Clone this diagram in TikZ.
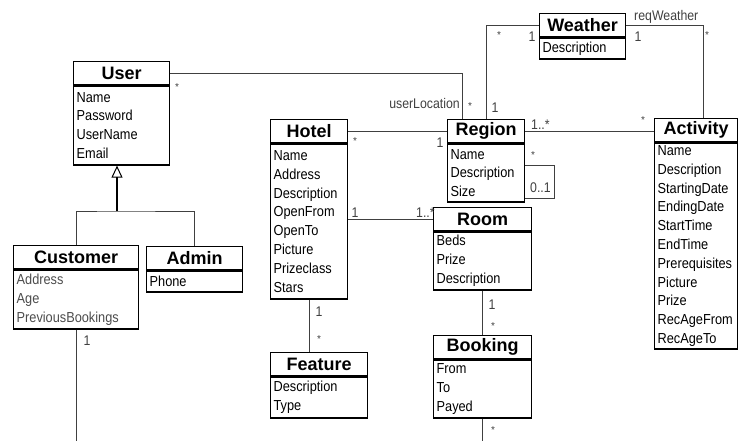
\documentclass[tikz,border=0pt]{standalone}
\usepackage{fontspec}
\setmainfont{Liberation Sans}
\newfontfamily\narrowfont[FakeStretch = 0.88]{Liberation Sans}
\usepackage{tikz}
\usetikzlibrary{arrows.meta}

\tikzset{
  classhead/.style = {rectangle,
      draw = black,
      line width = 1.3pt,
      anchor = north west,
      inner sep = 0pt,
      minimum width = #1,
      minimum height = 23pt,
      font = \fontsize{18}{20}\selectfont\bfseries},
  classbody/.style 2 args = {rectangle,
      draw = black,
      line width = 1.3pt,
      anchor = north,
      inner xsep = 3pt,
      inner ysep = 1pt,
      text width = #1,
      minimum height = #2,
      align = left,
      font = \narrowfont\fontsize{14.5}{18.8}\selectfont},
  assoc/.style = {draw = black!75, line width = 1pt},
  genline/.style = {draw = black, line width = 1.8pt,
      -{Triangle[open, length = 12pt, width = 11pt, line width = 1pt]}},
  mult/.style = {inner sep = 0pt, text = black!75,
      font = \narrowfont\fontsize{14}{15}\selectfont},
  star/.style = {inner sep = 0pt, anchor = base, text = black!75,
      font = \fontsize{10}{12}\selectfont},
}

\begin{document}
\begin{tikzpicture}[x = 1pt, y = -1pt]
\useasboundingbox (0,0) rectangle (739,441);

% user
\node[classhead = 96pt] (user) at (73,61) {User};
\node[classbody = {90pt}{79pt}] (user-attr) at (user.south)
    {Name\\Password\\UserName\\Email};

% customer
\node[classhead = 125pt] (customer) at (13,245) {Customer};
\node[classbody = {119pt}{59pt},
    text = black!70] (customer-attr) at (customer.south)
    {Address\\Age\\PreviousBookings};

% admin
\node[classhead = 96pt] (admin) at (146,246) {Admin};
\node[classbody = {90pt}{21pt}] (admin-attr) at (admin.south) {Phone};

% hotel
\node[classhead = 77pt] (hotel) at (270,119) {Hotel};
\node[classbody = {71pt}{155pt}] (hotel-attr) at (hotel.south)
    {Name\\Address\\Description\\OpenFrom\\OpenTo\\Picture\\Prizeclass\\Stars};

% region
\node[classhead = 77pt] (region) at (447,119) {Region};
\node[classbody = {71pt}{58pt}] (region-attr) at (region.south)
    {Name\\Description\\Size};

% room
\node[classhead = 98pt] (room) at (433,207) {Room};
\node[classbody = {92pt}{58pt}] (room-attr) at (room.south)
    {Beds\\Prize\\Description};

% booking
\node[classhead = 98pt] (booking) at (433,335) {Booking};
\node[classbody = {92pt}{58pt}] (booking-attr) at (booking.south)
    {From\\To\\Payed};

% feature
\node[classhead = 97pt] (feature) at (270,352) {Feature};
\node[classbody = {91pt}{41pt}] (feature-attr) at (feature.south)
    {Description\\Type};

% weather
\node[classhead = 86pt] (weather) at (539,13) {Weather};
\node[classbody = {80pt}{21pt}] (weather-attr) at (weather.south)
    {Description};

% activity
\node[classhead = 83pt] (activity) at (654,118) {Activity};
\node[classbody = {77pt}{206pt}] (activity-attr) at (activity.south)
    {Name\\Description\\StartingDate\\EndingDate\\StartTime\\EndTime\\Prerequisites\\Picture\\Prize\\RecAgeFrom\\RecAgeTo};

% generalization
\coordinate (genJoin) at (117,211);
\coordinate (bottomEdge) at (0,441);
\draw[genline] (genJoin) -- (genJoin |- user-attr.south);
\draw[assoc] (customer.north) |- (genJoin) -| (admin.north);

% associations
\draw[assoc] (user.east) -| ([shift={(15,0)}]region.north west);
\draw[assoc] (region.north) |- (weather.west);
\draw[assoc] (weather.east) -| ([shift={(7,0)}]activity.north);
\draw[assoc] (region.east) -- (region.east -| activity.west);
\draw[assoc] ([shift={(0,-7)}]region-attr.east) -- ++(29,0) -- ++(0,33) -- ++(-29,0);
\draw[assoc] (hotel.east) -- (region.west);
\draw[assoc] (hotel-attr.east |- room.west) -- (room.west);
\draw[assoc] (hotel-attr.south) -- (hotel-attr.south |- feature.north);
\draw[assoc] (room-attr.south) -- (booking.north);
\draw[assoc] (booking-attr.south) -- (booking-attr.south |- bottomEdge);
\draw[assoc] (customer-attr.south) -- (customer-attr.south |- bottomEdge);

% multiplicities
\node[star] (starUser) at (177,91) {*};
\node[mult, anchor = base east] (userLocation) at (460,109) {userLocation};
\node[star] (starUserLoc) at (470,110) {*};
\node[mult] (oneRegionTop) at (495,108) {1};
\node[star] (starRegionWeather) at (499,39) {*};
\node[mult] (oneWeatherLeft) at (532,37) {1};
\node[mult, anchor = base west] (reqWeather) at (634,21) {reqWeather};
\node[mult] (oneWeatherRight) at (638,37) {1};
\node[star] (starActivityTop) at (707,39) {*};
\node[mult, anchor = base west] (manyRegion) at (531,130) {1..*};
\node[star] (starActivity) at (643,124) {*};
\node[star] (starRegionLoop) at (533,159) {*};
\node[mult, anchor = base west] (zeroOne) at (530,193) {0..1};
\node[star] (starHotel) at (355,145) {*};
\node[mult] (oneRegionLeft) at (440,143) {1};
\node[mult] (oneHotelRoom) at (355,213) {1};
\node[mult, anchor = base west] (manyRoom) at (416,217) {1..*};
\node[mult] (oneHotelFeature) at (319,312) {1};
\node[star] (starFeature) at (319,342) {*};
\node[mult] (oneRoomBooking) at (492,305) {1};
\node[star] (starBooking) at (493,329) {*};
\node[star] (starBookingDown) at (493,433) {*};
\node[mult] (oneCustomer) at (87,341) {1};

\end{tikzpicture}
\end{document}
